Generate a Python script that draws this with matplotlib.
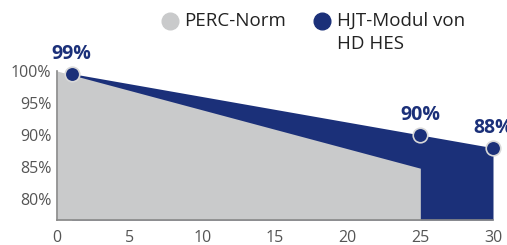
import matplotlib
matplotlib.use("Agg")
import matplotlib.pyplot as plt
from matplotlib.lines import Line2D

plt.rcParams['font.family'] = ['Open Sans', 'DejaVu Sans']

NAVY = "#1b3079"
GRAY = "#c9cacb"

perc_years = [0, 25]
perc_values = [100.0, 84.8]

hjt_years = [1, 25, 30]
hjt_values = [99.6, 90.0, 88.0]
hjt_labels = ["99%", "90%", "88%"]

x_ticks = [0, 5, 10, 15, 20, 25, 30]
y_ticks = [80, 85, 90, 95, 100]
y_bottom = 76.7

fig = plt.figure(figsize=(5.07, 2.45), dpi=100)
ax = fig.add_axes([57 / 507, 1 - 220 / 245, (493 - 57) / 507, (220 - 71) / 245])

# navy area behind, gray area in front
ax.fill_between(hjt_years, hjt_values, y_bottom, color=NAVY, linewidth=0, zorder=1)
ax.fill_between(perc_years, perc_values, y_bottom, color=GRAY, linewidth=0, zorder=2)

ax.scatter(hjt_years, hjt_values, s=110, color=NAVY, edgecolor="#d8d8d8",
           linewidth=1.2, zorder=4, clip_on=False)
for x, y, t in zip(hjt_years, hjt_values, hjt_labels):
    ax.annotate(t, (x, y), xytext=(0, 7), textcoords="offset points",
                ha="center", va="bottom", color=NAVY, fontsize=14,
                fontweight="bold", annotation_clip=False)

ax.set_xlim(0, 30)
ax.set_ylim(y_bottom, 100)
ax.set_xticks(x_ticks)
ax.set_yticks(y_ticks)
ax.set_yticklabels([f"{v}%" for v in y_ticks])
ax.tick_params(length=0, labelsize=11.5, labelcolor="#555555")
ax.tick_params(axis="x", pad=7)
ax.tick_params(axis="y", pad=4)
for s in ["top", "right"]:
    ax.spines[s].set_visible(False)
for s in ["left", "bottom"]:
    ax.spines[s].set_color("#888888")
    ax.spines[s].set_linewidth(1.2)
    ax.spines[s].set_zorder(3)

# legend
fig.add_artist(Line2D([170 / 507], [1 - 21 / 245], marker="o", markersize=12,
                      color=GRAY, linestyle="none", transform=fig.transFigure))
fig.text(184 / 507, 1 - 21 / 245, "PERC-Norm", fontsize=13.5, color="#222222",
         va="center", ha="left")
fig.add_artist(Line2D([322 / 507], [1 - 21 / 245], marker="o", markersize=12,
                      color=NAVY, linestyle="none", transform=fig.transFigure))
fig.text(337 / 507, 1 - 21 / 245, "HJT-Modul von", fontsize=13.5, color="#222222",
         va="center", ha="left")
fig.text(337 / 507, 1 - 44 / 245, "HD HES", fontsize=13.5, color="#222222",
         va="center", ha="left")

fig.savefig("out.png", dpi=100)
